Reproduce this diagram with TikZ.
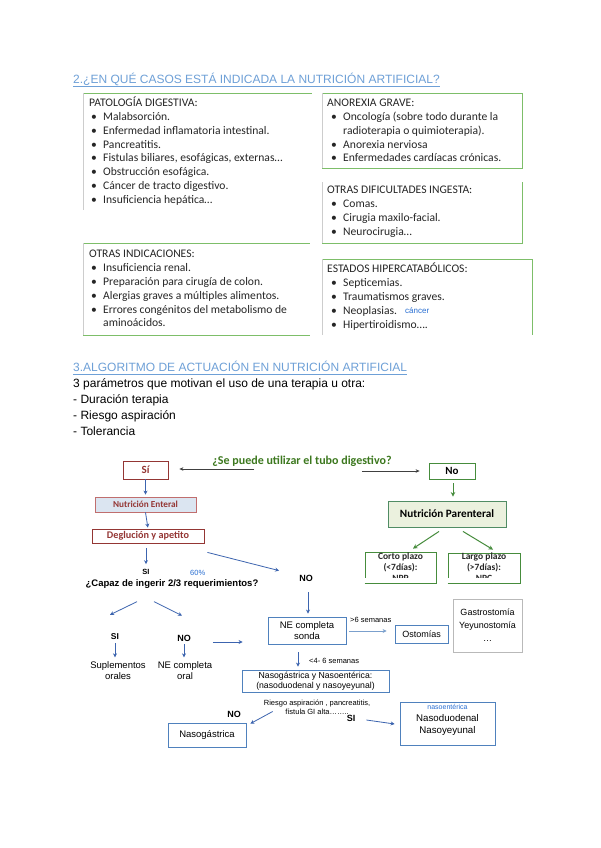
\documentclass[tikz,border=0pt]{standalone}
\usepackage{fontspec}
\setmainfont{Carlito}
\newfontfamily\arialf{Liberation Sans}
\usetikzlibrary{arrows.meta,calc}
\definecolor{hblue}{RGB}{110,160,215}
\definecolor{bgreen}{RGB}{125,190,105}
\definecolor{bgray}{RGB}{205,205,205}
\definecolor{fblue}{RGB}{60,100,175}
\definecolor{fbord}{RGB}{79,129,189}
\definecolor{dred}{RGB}{148,54,52}
\definecolor{lred}{RGB}{192,110,110}
\definecolor{ebg}{RGB}{219,229,241}
\definecolor{qgreen}{RGB}{60,120,30}
\definecolor{pgreen}{RGB}{70,140,60}
\definecolor{pbord}{RGB}{80,140,100}
\definecolor{pfill}{RGB}{235,241,222}
\definecolor{cblue}{RGB}{40,110,210}
\newcommand\bitem[4]{\node[tx] (#1b) at (#2,#3) {•}; \node[tx] (#1) at (#2+12,#3) {#4};}
\begin{document}
\begin{tikzpicture}[x=1pt,y=-1pt,
  tx/.style={anchor=base west, inner sep=0pt, font=\fontsize{11.6}{13}\selectfont, text=black!85},
  gline/.style={draw=bgreen, line width=0.9pt},
  gyline/.style={draw=bgray, line width=0.7pt},
  ttl/.style={anchor=base west, inner sep=0pt, font=\arialf\fontsize{12}{14}\selectfont, text=hblue},
  body/.style={anchor=base west, inner sep=0pt, font=\arialf\fontsize{12}{14}\selectfont, text=black},
  abox/.style={draw=fbord, line width=0.8pt, fill=white, inner sep=0pt, align=center, font=\arialf\fontsize{9.5}{11}\selectfont},
  redbox/.style={draw=dred, line width=0.8pt, fill=white, inner sep=0pt, font=\bfseries\fontsize{8}{9}\selectfont, text=dred},
  afont/.style={inner sep=0pt, align=center, font=\arialf\fontsize{9.5}{11}\selectfont},
  lbl/.style={inner sep=0pt, font=\arialf\bfseries\fontsize{8.5}{10}\selectfont},
  barr/.style={draw=fblue, line width=0.8pt, -{Stealth[length=4pt,width=4pt]}},
  garr/.style={draw=pgreen, line width=1pt, -{Stealth[length=4.5pt,width=4.5pt]}},
  karr/.style={draw=black!75, line width=0.6pt, -{Stealth[length=4pt,width=3.5pt]}}
]
\useasboundingbox[fill=white] (0,0) rectangle (600,848);

% ---------- section 2 ----------
\node[ttl] (t1) at (73,83.5) {2.¿EN QUÉ CASOS ESTÁ INDICADA LA NUTRICIÓN ARTIFICIAL?};
\draw[hblue, line width=0.6pt] ($(t1.base west)+(0,2.5)$) -- ($(t1.base east)+(0,2.5)$);

% box borders
\draw[gline] (83,93) -- (312,93);
\draw[gyline] (83,93) -- (83,210);
\draw[gline] (322,93) -- (522,93) -- (522,168) -- (322,168);
\draw[gyline] (322,93) -- (322,168);
\draw[gline] (522,182) -- (522,243) -- (322,243);
\draw[gyline] (322,182) -- (322,243);
\draw[gline] (83,243) -- (310,243);
\draw[gline] (83,335) -- (310,335);
\draw[gyline] (83,243) -- (83,335);
\draw[gline] (322,259) -- (532,259) -- (532,335);
\draw[gyline] (322,259) -- (322,335);

% box 1
\node[tx] (h1) at (89,106.5) {PATOLOGÍA DIGESTIVA:};
\bitem{a1}{91}{120.5}{Malabsorción.}
\bitem{a2}{91}{134.5}{Enfermedad inflamatoria intestinal.}
\bitem{a3}{91}{148.5}{Pancreatitis.}
\bitem{a4}{91}{161.5}{Fistulas biliares, esofágicas, externas…}
\bitem{a5}{91}{175.5}{Obstrucción esofágica.}
\bitem{a6}{91}{189.5}{Cáncer de tracto digestivo.}
\bitem{a7}{91}{203.5}{Insuficiencia hepática…}
% box 2
\node[tx] (h2) at (327,106.5) {ANOREXIA GRAVE:};
\bitem{b1}{331}{120.5}{Oncología (sobre todo durante la}
\node[tx] (b1c) at (343,134.5) {radioterapia o quimioterapia).};
\bitem{b2}{331}{148.5}{Anorexia nerviosa}
\bitem{b3}{331}{161.5}{Enfermedades cardíacas crónicas.}
% box 3
\node[tx] (h3) at (327,193.5) {OTRAS DIFICULTADES INGESTA:};
\bitem{c1}{331}{207.5}{Comas.}
\bitem{c2}{331}{221.5}{Cirugia maxilo-facial.}
\bitem{c3}{331}{235.5}{Neurocirugia…}
% box 4
\node[tx] (h4) at (89,257.5) {OTRAS INDICACIONES:};
\bitem{d1}{91}{271.5}{Insuficiencia renal.}
\bitem{d2}{91}{285.5}{Preparación para cirugía de colon.}
\bitem{d3}{91}{299.5}{Alergias graves a múltiples alimentos.}
\bitem{d4}{91}{313.5}{Errores congénitos del metabolismo de}
\node[tx] (d4c) at (103,326.5) {aminoácidos.};
% box 5
\node[tx] (h5) at (327,272.5) {ESTADOS HIPERCATABÓLICOS:};
\bitem{e1}{331}{286.5}{Septicemias.}
\bitem{e2}{331}{300.5}{Traumatismos graves.}
\bitem{e3}{331}{314.5}{Neoplasias.}
\node[anchor=base west, inner sep=0pt, font=\arialf\fontsize{8}{9}\selectfont, text=cblue] (e3n) at (405,313.5) {cáncer};
\bitem{e4}{331}{328.5}{Hipertiroidismo….}

% ---------- section 3 ----------
\node[ttl] (t3) at (73,371.5) {3.ALGORITMO DE ACTUACIÓN EN NUTRICIÓN ARTIFICIAL};
\draw[hblue, line width=0.6pt] ($(t3.base west)+(0,2.5)$) -- ($(t3.base east)+(0,2.5)$);
\node[body] (p0) at (73,387.5) {3 parámetros que motivan el uso de una terapia u otra:};
\node[body] (p1) at (73,403.5) {- Duración terapia};
\node[body] (p2) at (73,419.5) {- Riesgo aspiración};
\node[body] (p3) at (73,435.5) {- Tolerancia};

% ---------- flowchart ----------
\node[inner sep=0pt, font=\bfseries\fontsize{12}{14}\selectfont, text=qgreen] (q) at (302,461) {¿Se puede utilizar el tubo digestivo?};
\node[redbox, minimum width=45pt, minimum height=18pt, font=\bfseries\fontsize{11}{12}\selectfont] (si) at (145.5,470) {Sí};
\node[redbox, draw=lred, fill=ebg, minimum width=101pt, minimum height=15pt, font=\bfseries\fontsize{9.2}{10}\selectfont] (nent) at (145.5,504.5) {Nutrición Enteral};
\node[redbox, minimum width=112pt, minimum height=14pt, font=\bfseries\fontsize{10.2}{11}\selectfont] (degl) at (148,536) {Deglución y apetito};

\node[draw=pgreen, line width=0.8pt, inner sep=0pt, minimum width=46pt, minimum height=16pt, font=\bfseries\fontsize{11}{12}\selectfont] (no) at (452,471) {No};
\node[draw=pbord, fill=pfill, line width=0.9pt, inner sep=0pt, minimum width=118pt, minimum height=26pt, font=\bfseries\fontsize{11.2}{12}\selectfont] (npar) at (447,514) {Nutrición Parenteral};
\node[draw=pgreen, line width=0.8pt, inner sep=0pt, minimum width=71pt, minimum height=31pt] (corto) at (400.5,567.5) {};
\node[draw=pgreen, line width=0.8pt, inner sep=0pt, minimum width=72pt, minimum height=30pt] (largo) at (484,568) {};
\node[anchor=north, inner sep=0pt, align=center, font=\bfseries\fontsize{9.5}{11}\selectfont, text=black!85] (cortot) at (400.5,552.5) {Corto plazo\\(<7días):\\NPP};
\node[anchor=north, inner sep=0pt, align=center, font=\bfseries\fontsize{9.5}{11}\selectfont, text=black!85] (largot) at (484,552.5) {Largo plazo\\(>7días):\\NPC};
% bottom edges hide the lower part of the last line
\fill[white] (corto.south west) rectangle ($(corto.south east)+(0,-5)$);
\fill[white] (largo.south west) rectangle ($(largo.south east)+(0,-5)$);
\draw[pgreen, line width=0.8pt] (corto.south west) -- (corto.south east);
\draw[pgreen, line width=0.8pt] (largo.south west) -- (largo.south east);

\node[lbl, font=\arialf\bfseries\fontsize{7.5}{9}\selectfont] (si2) at (146,572) {SI};
\node[inner sep=0pt, anchor=west, font=\arialf\fontsize{7.5}{9}\selectfont, text=cblue] (pct) at (190,573) {60\%};
\node[lbl, font=\arialf\bfseries\fontsize{9.5}{11}\selectfont] (q2) at (172,584) {¿Capaz de ingerir 2/3 requerimientos?};
\node[lbl, font=\arialf\bfseries\fontsize{9}{11}\selectfont] (no2) at (306,578) {NO};
\node[lbl] (si3) at (115,637) {SI};
\node[lbl, font=\arialf\bfseries\fontsize{9}{11}\selectfont] (no3) at (184,638) {NO};
\node[afont] (supl) at (118,670.5) {Suplementos\\orales};
\node[afont] (neor) at (185,670.5) {NE completa\\oral};

\node[abox, minimum width=78pt, minimum height=27pt] (nes) at (307,630.5) {NE completa\\sonda};
\node[abox, minimum width=53pt, minimum height=18pt, font=\arialf\fontsize{9}{11}\selectfont] (ost) at (421.5,634) {Ostomías};
\node[abox, draw=gray!55, line width=1pt, minimum width=69pt, minimum height=53pt, font=\arialf\fontsize{9}{13}\selectfont] (gas) at (487.5,625.5) {Gastrostomía\\Yeyunostomía\\…};
\node[anchor=west, inner sep=0pt, font=\arialf\fontsize{7.5}{9}\selectfont] (s6) at (350,620) {>6 semanas};
\node[anchor=west, inner sep=0pt, font=\arialf\fontsize{7.5}{9}\selectfont] (s4) at (309,661) {<4- 6 semanas};
\node[abox, minimum width=147pt, minimum height=22pt, font=\arialf\fontsize{8.7}{10.5}\selectfont] (naso) at (315.5,681) {Nasogástrica y Nasoentérica:\\(nasoduodenal y nasoyeyunal)};
\node[afont, font=\arialf\fontsize{7.5}{9}\selectfont] (rie) at (317,707.5) {Riesgo aspiración , pancreatitis,\\fístula GI alta……..};
\node[lbl, font=\arialf\bfseries\fontsize{9}{11}\selectfont] (no4) at (234,714) {NO};
\node[lbl, font=\arialf\bfseries\fontsize{9}{11}\selectfont] (si4) at (351,718) {SI};
\node[abox, minimum width=78pt, minimum height=24pt] (nasog) at (207,735) {Nasogástrica};
\node[abox, minimum width=95pt, minimum height=43pt] (nasod) at (447.5,723.5) {};
\node[inner sep=0pt, font=\arialf\fontsize{7}{8}\selectfont, text=cblue] (nasoe) at (447.5,707) {nasoentérica};
\node[afont, font=\arialf\fontsize{9.7}{12}\selectfont] (nasodt) at (447.5,725) {Nasoduodenal\\Nasoyeyunal};

% arrows
\draw[karr] ($(q.west)+(42,8)$) -- ($(si.east)+(11,-1)$);
\draw[karr] ($(q.east)+(-30,10)$) -- ($(no.west)+(-9,0)$);
\draw[barr, shorten >=2pt] (si.south) -- (nent.north);
\draw[barr, shorten >=1pt] (nent.south) -- (degl.north);
\draw[barr] ($(degl.south)+(-2,5)$) -- ($(si2.north)+(0,-5)$);
\draw[barr] ($(degl.south east)+(3,9)$) -- ($(no2.north west)+(-20,-4)$);
\draw[barr] ($(q2.south)+(-35,13)$) -- ($(si3.north)+(-5,-19)$);
\draw[barr] ($(q2.south)+(-18,13)$) -- ($(no3.north)+(-2,-19)$);
\draw[barr] ($(si3.south)+(0,3)$) -- ($(supl.north)+(-3,-4)$);
\draw[barr] ($(no3.south)+(0,3)$) -- ($(neor.north)+(-1,-4)$);
\draw[barr] ($(no3.east)+(22,4)$) -- ($(nes.west)+(-25,11.5)$);
\draw[barr] ($(no2.south)+(2,11)$) -- ($(nes.north)+(1,-3)$);
\draw[barr, draw=fbord!75] ($(nes.east)+(3,0.5)$) -- ($(ost.west)+(-8,-3)$);
\draw[barr] ($(nes.south)+(-9,8)$) -- ($(naso.north)+(-17.5,-3)$);
\draw[barr] ($(rie.west)+(9,4)$) -- ($(nasog.north east)+(4,1)$);
\draw[barr] ($(si4.east)+(11,2)$) -- ($(nasod.west)+(-5,0.5)$);
\draw[garr] ($(no.south)+(1,4)$) -- ($(npar.north)+(6,-4)$);
\draw[garr] ($(npar.south)+(-8,4)$) -- ($(corto.north)+(12.5,-3)$);
\draw[garr] ($(npar.south)+(16,4)$) -- ($(largo.north)+(9,-3)$);
\end{tikzpicture}
\end{document}
